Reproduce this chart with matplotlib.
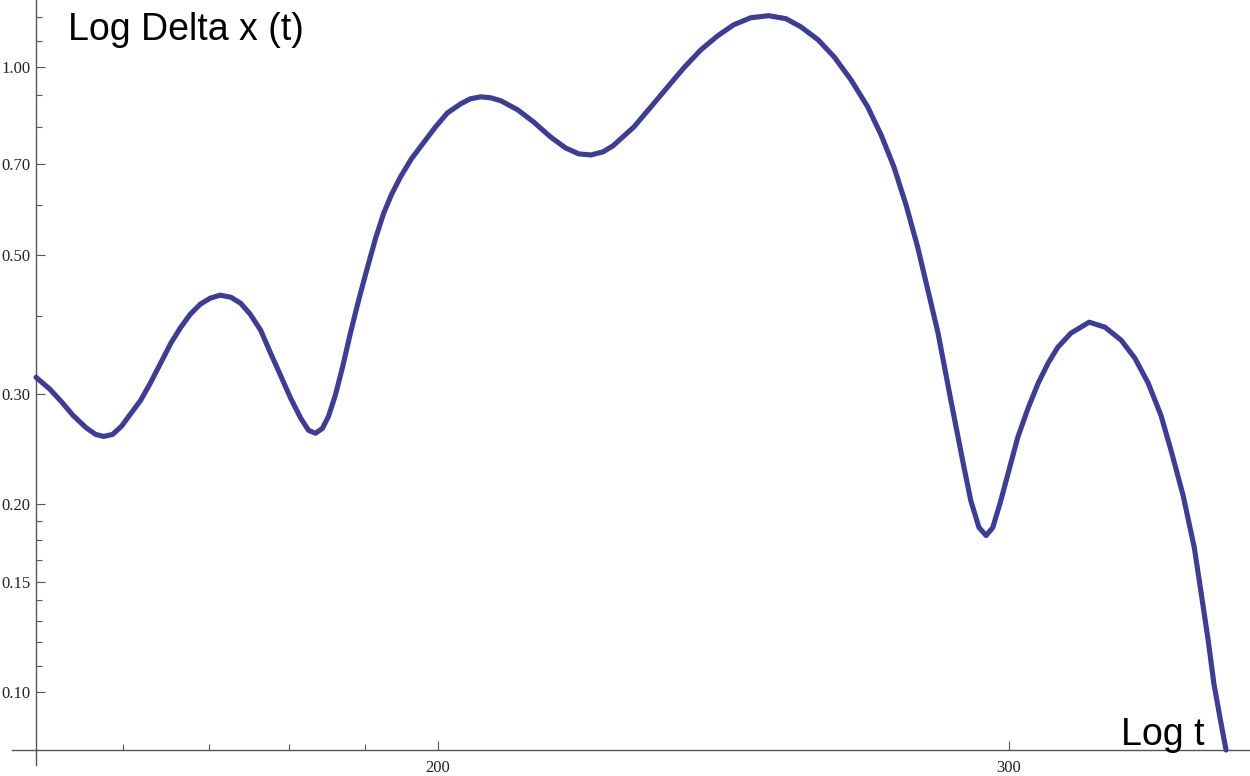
#standard imports
import matplotlib
matplotlib.use('Agg')
import matplotlib.pyplot as plt
from matplotlib.ticker import FixedLocator, NullFormatter, FixedFormatter
from matplotlib.lines import Line2D

#########
#Data
#########
t_vals = [150.4, 151.9, 153.2, 154.4, 155.8, 156.9, 157.8, 158.8, 159.8, 160.8,
          162.0, 163.1, 164.3, 165.5, 166.6, 167.8, 169.0, 170.2, 171.4, 172.7,
          173.9, 175.1, 176.4, 177.6, 178.9, 180.2, 181.5, 182.5, 183.4, 184.3,
          185.1, 186.0, 186.95, 188.0, 189.1, 190.3, 191.4, 192.5, 193.6, 194.8,
          196.3, 198.0, 199.7, 201.4, 203.3, 204.7, 206.2, 207.7, 209.2, 211.7,
          214.1, 216.7, 219.0, 221.1, 223.0, 224.9, 226.5, 228.1, 229.9, 232.7,
          235.5, 238.2, 241.1, 244.0, 246.8, 249.8, 253.0, 256.1, 258.8, 262.0,
          265.0, 268.2, 271.4, 274.0, 276.5, 278.9, 281.2, 283.25, 285.3, 287.9,
          290.6, 292.0, 293.7, 295.2, 296.6, 298.3, 300.0, 301.9, 304.1, 306.3,
          308.45, 310.6, 313.5, 317.6, 321.2, 324.9, 328.1, 331.2, 334.2, 336.6,
          339.5, 342.2, 343.9, 345.6, 347.0, 348.5, 350.0]
delta_x = [0.3186, 0.3048, 0.2905, 0.2769, 0.2649, 0.2581, 0.2562, 0.2581, 0.2659, 0.2779,
           0.2927, 0.3116, 0.3354, 0.3611, 0.3817, 0.4019, 0.4170, 0.4264, 0.4311, 0.4279,
           0.4186, 0.4019, 0.3789, 0.3493, 0.3209, 0.2948, 0.2738, 0.2620, 0.2592, 0.2639,
           0.2759, 0.2981, 0.3305, 0.3748, 0.4232, 0.4781, 0.5321, 0.5834, 0.6259, 0.6664,
           0.7120, 0.7555, 0.8012, 0.8437, 0.8723, 0.8887, 0.8953, 0.8920, 0.8822, 0.8534,
           0.8162, 0.7722, 0.7417, 0.7254, 0.7227, 0.7308, 0.7472, 0.7722, 0.8012, 0.8628,
           0.9289, 0.9963, 1.0647, 1.1212, 1.1676, 1.1982, 1.2071, 1.1938, 1.1590, 1.1048,
           1.0376, 0.9532, 0.8628, 0.7779, 0.6915, 0.6008, 0.5146, 0.4391, 0.3748, 0.2927,
           0.2286, 0.2023, 0.1832, 0.1778, 0.1832, 0.2023, 0.2260, 0.2553, 0.2841, 0.3116,
           0.3354, 0.3558, 0.3748, 0.3903, 0.3831, 0.3652, 0.3416, 0.3116, 0.2769, 0.2433,
           0.2061, 0.1701, 0.1435, 0.1207, 0.1030, 0.0909, 0.0807]

y_major = [0.10, 0.15, 0.20, 0.30, 0.50, 0.70, 1.00]
y_minor = [0.11, 0.12, 0.13, 0.14, 0.1625, 0.175, 0.1875, 0.4, 0.6, 0.8, 0.9, 1.1, 1.2]
x_major = [200, 300]
x_minor = [160, 170, 180, 190]

line_col = '#3d3d99'
axis_col = '#555555'

#########
#Plot
#########
fig = plt.figure(figsize=(12.5, 7.76), dpi=100)
ax = fig.add_axes([36/1250, 26/776, 1214/1250, 750/776])
ax.set_xscale('log')
ax.set_yscale('log')

ax.plot(t_vals, delta_x, color=line_col, lw=3.7, solid_capstyle='round',
        solid_joinstyle='round', clip_on=False, zorder=3)

ax.set_xlim(150.4, 356.0)
ax.set_ylim(0.0807, 1.279)

# mathematica style axes: only left + bottom, ticks inside
for s in ['top', 'right']:
    ax.spines[s].set_visible(False)
for s in ['left', 'bottom']:
    ax.spines[s].set_color(axis_col)
    ax.spines[s].set_linewidth(1.0)

ax.xaxis.set_major_locator(FixedLocator(x_major))
ax.xaxis.set_major_formatter(FixedFormatter([str(v) for v in x_major]))
ax.xaxis.set_minor_locator(FixedLocator(x_minor))
ax.xaxis.set_minor_formatter(NullFormatter())
ax.yaxis.set_major_locator(FixedLocator(y_major))
ax.yaxis.set_major_formatter(FixedFormatter(['%.2f' % v for v in y_major]))
ax.yaxis.set_minor_locator(FixedLocator(y_minor))
ax.yaxis.set_minor_formatter(NullFormatter())

ax.tick_params(which='major', direction='in', length=6.5, width=0.8, color=axis_col,
               labelsize=12, labelcolor='#222222')
ax.tick_params(which='minor', direction='in', length=4, width=0.8, color=axis_col)
ax.tick_params(axis='x', which='major', pad=7)
ax.tick_params(axis='y', which='major', pad=4)
for lab in ax.get_xticklabels() + ax.get_yticklabels():
    lab.set_family(['Liberation Serif', 'DejaVu Serif'])

# axis lines run a little past the origin like in the original
fig.add_artist(Line2D([12/1250, 36/1250], [26/776, 26/776], color=axis_col, lw=1.0))
fig.add_artist(Line2D([36/1250, 36/1250], [11/776, 26/776], color=axis_col, lw=1.0))

fig.text(68/1250, 1 - 40/776, 'Log Delta x (t)', fontsize=27, va='baseline',
         family=['Liberation Sans', 'DejaVu Sans'])
fig.text(1121/1250, 1 - 745/776, 'Log t', fontsize=27, va='baseline',
         family=['Liberation Sans', 'DejaVu Sans'])

fig.savefig('out.png', dpi=100)
